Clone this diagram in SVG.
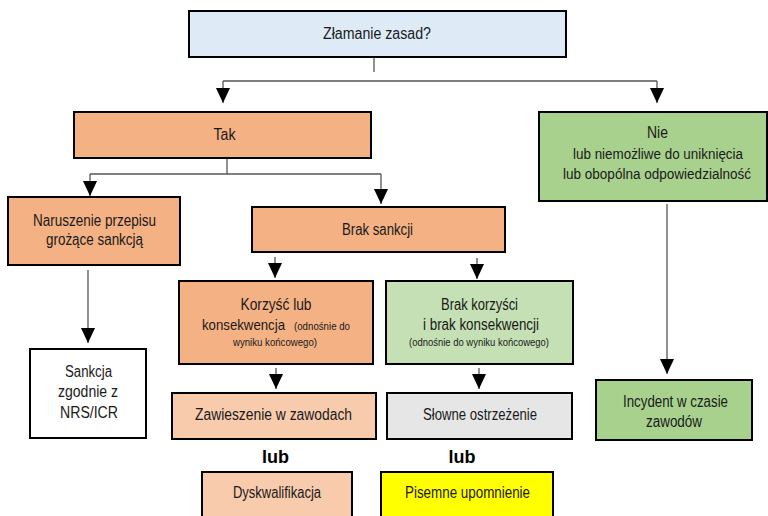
<svg xmlns="http://www.w3.org/2000/svg" width="768" height="516" viewBox="0 0 768 516">
<style>
.box{stroke:#000;stroke-width:2}
.t{font-family:"Liberation Sans",Arial,sans-serif;font-size:16px;fill:#1a1a1a;text-anchor:middle}
.n{font-size:14px}
.s{font-family:"Liberation Sans",Arial,sans-serif;font-size:10.5px;fill:#1a1a1a;text-anchor:middle}
.lub{font-family:"Liberation Sans",Arial,sans-serif;font-size:18px;font-weight:bold;fill:#000;text-anchor:middle}
.c{fill:none;stroke:#555;stroke-width:1.3}
.blue{fill:#DEEBF7}.sal{fill:#F4B183}.peach{fill:#F8CBAD}.green{fill:#A9D18E}.lgreen{fill:#C5E0B4}.gray{fill:#E7E6E6}.yel{fill:#FFFF00}.white{fill:#FFFFFF}
</style>
<defs>
<marker id="ah" viewBox="0 0 15 14" refX="15" refY="7" markerWidth="15" markerHeight="14" orient="auto" markerUnits="userSpaceOnUse"><path d="M0,0 L15,7 L0,14 z" fill="#000"/></marker>
</defs>
<rect width="768" height="516" fill="#fff"/>
<g id="connectors">
<path class="c" d="M374,58 V72"/>
<path class="c" d="M223,81 H657"/>
<path class="c" d="M223,81 V103" marker-end="url(#ah)"/>
<path class="c" d="M657,81 V103" marker-end="url(#ah)"/>
<path class="c" d="M227,159 V174"/>
<path class="c" d="M90,174 H381"/>
<path class="c" d="M90,174 V196" marker-end="url(#ah)"/>
<path class="c" d="M381,174 V204" marker-end="url(#ah)"/>
<path class="c" d="M88,270 V343" marker-end="url(#ah)"/>
<path class="c" d="M275,257 V278" marker-end="url(#ah)"/>
<path class="c" d="M477,258 V279" marker-end="url(#ah)"/>
<path class="c" d="M276,368 V389" marker-end="url(#ah)"/>
<path class="c" d="M479,368 V389" marker-end="url(#ah)"/>
<path class="c" d="M667,204 V374" marker-end="url(#ah)"/>
</g>
<g id="zlamanie">
<rect class="box blue" x="189" y="11" width="377" height="46"/>
<text class="t" x="377" y="39" textLength="108" lengthAdjust="spacingAndGlyphs">Złamanie zasad?</text>
</g>
<g id="tak">
<rect class="box sal" x="74" y="112" width="297" height="46"/>
<text class="t" x="224.5" y="140" textLength="22" lengthAdjust="spacingAndGlyphs">Tak</text>
</g>
<g id="nie">
<rect class="box green" x="539" y="112" width="228" height="89"/>
<text class="t" x="657.5" y="138" textLength="21" lengthAdjust="spacingAndGlyphs">Nie</text>
<text class="t n" x="658" y="159" textLength="170" lengthAdjust="spacingAndGlyphs">lub niemożliwe do uniknięcia</text>
<text class="t n" x="657" y="179" textLength="188" lengthAdjust="spacingAndGlyphs">lub obopólna odpowiedzialność</text>
</g>
<g id="naruszenie">
<rect class="box sal" x="8" y="197" width="172" height="68"/>
<text class="t" x="94.5" y="226" textLength="123" lengthAdjust="spacingAndGlyphs">Naruszenie przepisu</text>
<text class="t" x="94.5" y="245" textLength="97" lengthAdjust="spacingAndGlyphs">grożące sankcją</text>
</g>
<g id="brak-sankcji">
<rect class="box sal" x="252" y="207" width="253" height="45"/>
<text class="t" x="377.5" y="235" textLength="71" lengthAdjust="spacingAndGlyphs">Brak sankcji</text>
</g>
<g id="korzysc">
<rect class="box sal" x="179" y="281" width="194" height="83"/>
<text class="t" x="276" y="310" textLength="71" lengthAdjust="spacingAndGlyphs">Korzyść lub</text>
<text class="t" x="202" y="330" textLength="83" lengthAdjust="spacingAndGlyphs" style="text-anchor:start;font-size:14.5px">konsekwencja</text>
<text class="s" x="294" y="330" textLength="56" lengthAdjust="spacingAndGlyphs" style="text-anchor:start">(odnośnie do</text>
<text class="s" x="275" y="346" textLength="84" lengthAdjust="spacingAndGlyphs">wyniku końcowego)</text>
</g>
<g id="brak-korzysci">
<rect class="box lgreen" x="386" y="281" width="187" height="83"/>
<text class="t" x="479.5" y="310" textLength="77" lengthAdjust="spacingAndGlyphs">Brak korzyści</text>
<text class="t" x="481" y="330" textLength="116" lengthAdjust="spacingAndGlyphs">i brak konsekwencji</text>
<text class="s" x="479" y="346" textLength="140" lengthAdjust="spacingAndGlyphs">(odnośnie do wyniku końcowego)</text>
</g>
<g id="sankcja">
<rect class="box white" x="30" y="349" width="116" height="89"/>
<text class="t" x="88.5" y="377" textLength="47" lengthAdjust="spacingAndGlyphs">Sankcja</text>
<text class="t" x="88" y="397" textLength="60" lengthAdjust="spacingAndGlyphs">zgodnie z</text>
<text class="t" x="89" y="418" textLength="58" lengthAdjust="spacingAndGlyphs">NRS/ICR</text>
</g>
<g id="zawieszenie">
<rect class="box peach" x="172" y="393" width="204" height="46"/>
<text class="t" x="273.5" y="420" textLength="157" lengthAdjust="spacingAndGlyphs">Zawieszenie w zawodach</text>
</g>
<g id="slowne">
<rect class="box gray" x="387" y="393" width="185" height="46"/>
<text class="t" x="480" y="420" textLength="114" lengthAdjust="spacingAndGlyphs">Słowne ostrzeżenie</text>
</g>
<g id="incydent">
<rect class="box green" x="596" y="380" width="156" height="60"/>
<text class="t" x="675.5" y="407" textLength="105" lengthAdjust="spacingAndGlyphs">Incydent w czasie</text>
<text class="t" x="674" y="427" textLength="56" lengthAdjust="spacingAndGlyphs">zawodów</text>
</g>
<g id="lub1"><text class="lub" x="275.5" y="463">lub</text></g>
<g id="lub2"><text class="lub" x="462" y="463">lub</text></g>
<g id="dyskwalifikacja">
<rect class="box peach" x="202" y="472" width="150" height="50"/>
<text class="t" x="277" y="498" textLength="88" lengthAdjust="spacingAndGlyphs">Dyskwalifikacja</text>
</g>
<g id="pisemne">
<rect class="box yel" x="381" y="472" width="172" height="50"/>
<text class="t" x="467.5" y="498" textLength="125" lengthAdjust="spacingAndGlyphs">Pisemne upomnienie</text>
</g>
</svg>
